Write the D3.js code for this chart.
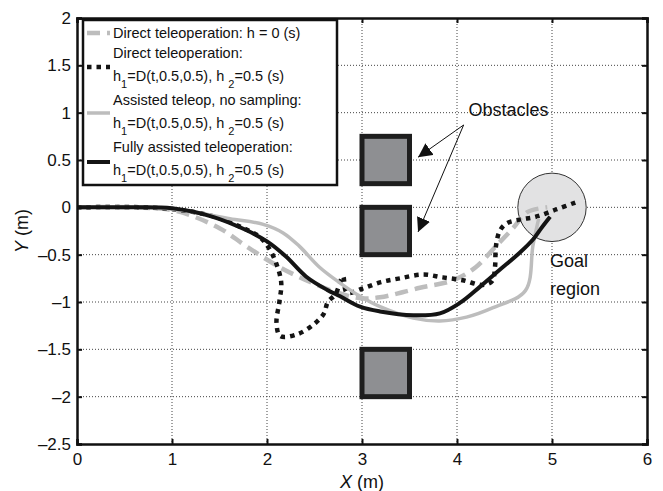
<!DOCTYPE html>
<html>
<head>
<meta charset="utf-8">
<script src="https://cdn.jsdelivr.net/npm/d3@7"></script>
<style>
  body { margin: 0; background: #fff; }
  svg { display: block; font-family: "Liberation Sans", Arial, sans-serif; }
</style>
</head>
<body>
<svg id="chart" width="663" height="491"></svg>
<script>
// ticks
var xTicks = [0, 1, 2, 3, 4, 5, 6];
var yTicks = [-2.5, -2, -1.5, -1, -0.5, 0, 0.5, 1, 1.5, 2];

// trajectories (X, Y in m)
var directNoDelay = [[0,0],[0.6,0],[1.05,-0.04],[1.5,-0.22],[1.78,-0.41],[2.13,-0.63],[2.48,-0.8],[2.77,-0.91],
  [2.98,-0.96],[3.19,-0.95],[3.61,-0.85],[3.96,-0.77],[4.2,-0.63],[4.41,-0.41],[4.59,-0.22],[4.74,-0.05],[4.95,0.0]];
var directDelay = [[0,0],[0.7,0],[1.1,-0.03],[1.45,-0.1],[1.75,-0.22],[1.92,-0.31],[2.02,-0.43],[2.1,-0.6],[2.15,-0.8],
  [2.13,-1.0],[2.1,-1.22],[2.14,-1.36],[2.32,-1.34],[2.5,-1.23],[2.6,-1.12],[2.64,-1.0],[2.72,-0.92],[2.8,-0.73],
  [2.84,-0.9],[3.0,-0.86],[3.2,-0.79],[3.4,-0.75],[3.64,-0.71],[3.85,-0.74],[4.06,-0.77],[4.27,-0.82],[4.37,-0.78],
  [4.4,-0.63],[4.41,-0.41],[4.45,-0.25],[4.52,-0.17],[4.66,-0.13],[4.83,-0.1],[5.05,-0.02],[5.27,0.06]];
var assistedNoSampling = [[0,0],[0.7,0],[1.1,-0.03],[1.61,-0.12],[1.96,-0.18],[2.17,-0.27],[2.34,-0.41],[2.55,-0.63],
  [2.77,-0.8],[2.98,-0.94],[3.19,-1.05],[3.54,-1.17],[3.82,-1.2],[4.1,-1.16],[4.38,-1.06],[4.72,-0.88],[4.8,-0.4],[4.86,-0.12]];
var fullyAssisted = [[0,0],[0.5,0],[1.0,-0.01],[1.43,-0.1],[1.78,-0.24],[2.0,-0.36],[2.2,-0.52],[2.41,-0.73],[2.63,-0.87],
  [2.77,-0.94],[2.98,-1.05],[3.19,-1.1],[3.54,-1.14],[3.82,-1.12],[4.03,-1.01],[4.24,-0.84],[4.45,-0.66],[4.66,-0.48],
  [4.8,-0.34],[4.88,-0.23],[4.98,-0.1]];

// obstacles [x0, x1, y0, y1] and goal [cx, cy, r]
var obstacles = [[3, 3.5, 0.25, 0.75], [3, 3.5, -0.5, 0], [3, 3.5, -2, -1.5]];
var goal = [5, 0, 0.36];

var legendNames = ["Direct teleoperation: h = 0 (s)", "Direct teleoperation:", "Assisted teleop, no sampling:", "Fully assisted teleoperation:"];

const pLeft = 77, pRight = 647, pTop = 18, pBottom = 444;

var svg = d3.select("#chart");
var x = d3.scaleLinear().domain([0, 6]).range([pLeft, pRight]);
var y = d3.scaleLinear().domain([-2.5, 2]).range([pBottom, pTop]);

// grid
svg.append("g").selectAll("line")
  .data(xTicks.slice(1, -1)).enter().append("line")
  .attr("x1", d => x(d)).attr("x2", d => x(d)).attr("y1", pTop).attr("y2", pBottom)
  .attr("stroke", "#444").attr("stroke-width", 1).attr("stroke-dasharray", "1,2");
svg.append("g").selectAll("line")
  .data(yTicks.slice(1, -1)).enter().append("line")
  .attr("y1", d => y(d)).attr("y2", d => y(d)).attr("x1", pLeft).attr("x2", pRight)
  .attr("stroke", "#444").attr("stroke-width", 1).attr("stroke-dasharray", "1,2");

// obstacles
svg.append("g").selectAll("rect")
  .data(obstacles).enter().append("rect")
  .attr("x", d => x(d[0])).attr("width", d => x(d[1]) - x(d[0]))
  .attr("y", d => y(d[3])).attr("height", d => y(d[2]) - y(d[3]))
  .attr("fill", "#8e8f92").attr("stroke", "#1e1e1e").attr("stroke-width", 5);

// goal
svg.append("circle")
  .attr("cx", x(goal[0])).attr("cy", y(goal[1])).attr("r", x(goal[2]) - x(0))
  .attr("fill", "#e2e2e3").attr("stroke", "#333").attr("stroke-width", 1);

var line = d3.line().x(d => x(d[0])).y(d => y(d[1])).curve(d3.curveCatmullRom.alpha(0.5));

var styles = [
  {data: directNoDelay, color: "#bdbdbd", width: 4.5, dash: "13,7"},
  {data: directDelay, color: "#141414", width: 4.5, dash: "4.5,5"},
  {data: assistedNoSampling, color: "#bdbdbd", width: 3.5, dash: null},
  {data: fullyAssisted, color: "#141414", width: 4, dash: null}
];
styles.forEach(function(s) {
  svg.append("path").attr("d", line(s.data))
    .attr("fill", "none").attr("stroke", s.color).attr("stroke-width", s.width)
    .attr("stroke-dasharray", s.dash);
});

// annotations
svg.append("defs").append("marker")
  .attr("id", "arrow").attr("viewBox", "0 0 10 10").attr("refX", 10).attr("refY", 5)
  .attr("markerWidth", 14).attr("markerHeight", 14).attr("markerUnits", "userSpaceOnUse")
  .attr("orient", "auto")
  .append("path").attr("d", "M0,0 L10,5 L0,10 z").attr("fill", "#111");

var arrowFrom = [4.07, 0.87];
[[3.59, 0.53], [3.59, -0.26]].forEach(function(t) {
  svg.append("line")
    .attr("x1", x(arrowFrom[0])).attr("y1", y(arrowFrom[1]))
    .attr("x2", x(t[0])).attr("y2", y(t[1]))
    .attr("stroke", "#111").attr("stroke-width", 1).attr("marker-end", "url(#arrow)");
});
svg.append("text").attr("x", x(4.12)).attr("y", y(0.97))
  .attr("font-size", 18).attr("fill", "#111").text("Obstacles");
svg.append("text").attr("x", x(4.98)).attr("y", y(-0.63))
  .attr("font-size", 18).attr("fill", "#111").text("Goal");
svg.append("text").attr("x", x(4.98)).attr("y", y(-0.93))
  .attr("font-size", 18).attr("fill", "#111").text("region");

// axes box and ticks
var fmt = d => (d < 0 ? "\u2013" + Math.abs(d) : String(d));
svg.append("g").attr("transform", "translate(0," + pBottom + ")")
  .call(d3.axisBottom(x).tickValues(xTicks).tickSize(-5).tickPadding(9).tickFormat(fmt));
svg.append("g").attr("transform", "translate(0," + pTop + ")")
  .call(d3.axisTop(x).tickValues(xTicks).tickSize(-5).tickFormat(""));
svg.append("g").attr("transform", "translate(" + pLeft + ",0)")
  .call(d3.axisLeft(y).tickValues(yTicks).tickSize(-5).tickPadding(6).tickFormat(fmt));
svg.append("g").attr("transform", "translate(" + pRight + ",0)")
  .call(d3.axisRight(y).tickValues(yTicks).tickSize(-5).tickFormat(""));
svg.selectAll(".domain").attr("stroke", "#111").attr("stroke-width", 2.5);
svg.selectAll(".tick line").attr("stroke", "#111").attr("stroke-width", 2);
svg.selectAll(".tick text").attr("font-size", 17).attr("fill", "#111")
  .attr("font-family", "Liberation Sans, Arial, sans-serif");

// axis labels
var xl = svg.append("text").attr("x", (pLeft + pRight) / 2).attr("y", 488)
  .attr("text-anchor", "middle").attr("font-size", 18).attr("fill", "#111");
xl.append("tspan").attr("font-style", "italic").text("X");
xl.append("tspan").text(" (m)");
var yl = svg.append("text").attr("transform", "translate(28," + ((pTop + pBottom) / 2) + ") rotate(-90)")
  .attr("text-anchor", "middle").attr("font-size", 18).attr("fill", "#111");
yl.append("tspan").attr("font-style", "italic").text("Y");
yl.append("tspan").text(" (m)");

// legend
var lg = svg.append("g");
lg.append("rect").attr("x", 83).attr("y", 20).attr("width", 254).attr("height", 165)
  .attr("fill", "#fff").attr("stroke", "#111").attr("stroke-width", 2.5);
var sampleY = [33, 67, 113, 162];
styles.forEach(function(s, i) {
  lg.append("line").attr("x1", 87).attr("x2", 110).attr("y1", sampleY[i]).attr("y2", sampleY[i])
    .attr("stroke", s.color).attr("stroke-width", s.width).attr("stroke-dasharray", s.dash);
});
var firstLineY = [38, 58, 105, 152];
legendNames.forEach(function(name, i) {
  lg.append("text").attr("x", 113).attr("y", firstLineY[i]).attr("font-size", 14.5)
    .attr("fill", "#111").text(name);
  if (i > 0) {
    var t = lg.append("text").attr("x", 113).attr("y", firstLineY[i] + 23).attr("font-size", 14.5).attr("fill", "#111");
    t.append("tspan").text("h");
    t.append("tspan").attr("font-size", 11).attr("dy", 7).text("1");
    t.append("tspan").attr("dy", -7).text("=D(t,0.5,0.5), h ");
    t.append("tspan").attr("font-size", 11).attr("dy", 7).text("2");
    t.append("tspan").attr("dy", -7).text("=0.5 (s)");
  }
});
</script>
</body>
</html>
